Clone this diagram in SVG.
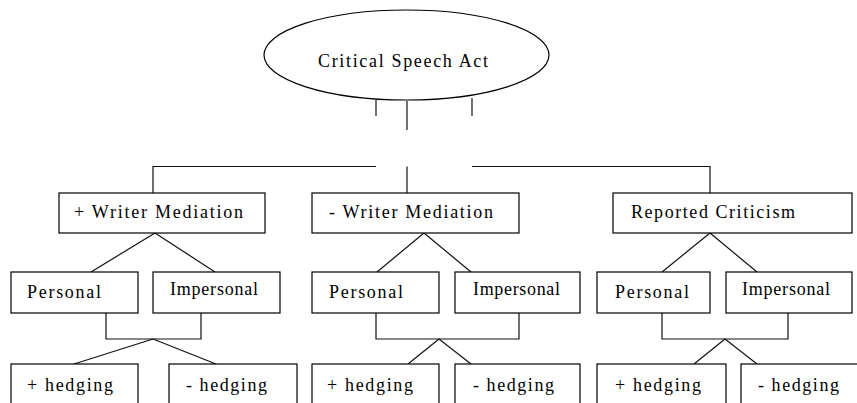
<svg xmlns="http://www.w3.org/2000/svg" width="857" height="403" viewBox="0 0 857 403">
<style>
.n rect,.n ellipse{fill:#fff;stroke:#000;stroke-width:1.2}
.c line,.c polyline{stroke:#111;stroke-width:1.2;fill:none}
text{font-family:"Liberation Serif","Times New Roman",serif;font-size:18px;fill:#000}
</style>
<rect width="857" height="403" fill="#fff"/>
<g class="c" id="connectors">
<line x1="376" y1="100" x2="376" y2="116"/>
<line x1="407" y1="101" x2="407" y2="130"/>
<line x1="472" y1="98" x2="472" y2="116"/>
<polyline points="153,193 153,166.5 376,166.5"/>
<polyline points="472,166.5 710,166.5 710,193"/>
<line x1="407" y1="166.5" x2="407" y2="193"/>
<line x1="155" y1="233" x2="91" y2="272"/>
<line x1="155" y1="233" x2="215" y2="272"/>
<line x1="424" y1="233" x2="377" y2="272"/>
<line x1="424" y1="233" x2="471" y2="272"/>
<line x1="710" y1="233" x2="662" y2="272"/>
<line x1="710" y1="233" x2="757" y2="272"/>
<polyline points="106,313 106,339 201,339 201,313"/>
<polyline points="376,313 376,339 519,339 519,313"/>
<polyline points="662,313 662,339 788,339 788,313"/>
<line x1="153" y1="339" x2="74" y2="364"/>
<line x1="153" y1="339" x2="216" y2="364"/>
<line x1="439" y1="339" x2="408" y2="364"/>
<line x1="439" y1="339" x2="471" y2="364"/>
<line x1="725" y1="339" x2="694" y2="364"/>
<line x1="725" y1="339" x2="757" y2="364"/>
</g>
<g class="n" id="root"><ellipse cx="406.5" cy="55" rx="142.5" ry="45"/><text x="318" y="67" textLength="170" lengthAdjust="spacing">Critical Speech Act</text></g>
<g class="n" id="wm-plus"><rect x="59" y="193" width="206" height="40"/><text x="74" y="218" textLength="169" lengthAdjust="spacing">+ Writer Mediation</text></g>
<g class="n" id="wm-minus"><rect x="312" y="193" width="207" height="40"/><text x="329" y="218" textLength="164" lengthAdjust="spacing">- Writer Mediation</text></g>
<g class="n" id="reported"><rect x="613" y="193" width="239" height="40"/><text x="631" y="218" textLength="164" lengthAdjust="spacing">Reported Criticism</text></g>
<g class="n" id="p1"><rect x="11" y="272" width="127" height="41"/><text x="27" y="298" textLength="74" lengthAdjust="spacing">Personal</text></g>
<g class="n" id="i1"><rect x="153" y="272" width="127" height="41"/><text x="170" y="295" textLength="88" lengthAdjust="spacing">Impersonal</text></g>
<g class="n" id="p2"><rect x="312" y="272" width="127" height="41"/><text x="329" y="298" textLength="74" lengthAdjust="spacing">Personal</text></g>
<g class="n" id="i2"><rect x="455" y="272" width="125" height="41"/><text x="473" y="295" textLength="87" lengthAdjust="spacing">Impersonal</text></g>
<g class="n" id="p3"><rect x="597" y="272" width="113" height="41"/><text x="615" y="298" textLength="74" lengthAdjust="spacing">Personal</text></g>
<g class="n" id="i3"><rect x="726" y="272" width="126" height="41"/><text x="742" y="295" textLength="88" lengthAdjust="spacing">Impersonal</text></g>
<g class="n" id="h1p"><rect x="11" y="364" width="127" height="50"/><text x="27" y="391" textLength="86" lengthAdjust="spacing">+ hedging</text></g>
<g class="n" id="h1m"><rect x="169" y="364" width="128" height="50"/><text x="186" y="391" textLength="81" lengthAdjust="spacing">- hedging</text></g>
<g class="n" id="h2p"><rect x="312" y="364" width="127" height="50"/><text x="327" y="391" textLength="86" lengthAdjust="spacing">+ hedging</text></g>
<g class="n" id="h2m"><rect x="455" y="364" width="125" height="50"/><text x="473" y="391" textLength="81" lengthAdjust="spacing">- hedging</text></g>
<g class="n" id="h3p"><rect x="597" y="364" width="129" height="50"/><text x="615" y="391" textLength="86" lengthAdjust="spacing">+ hedging</text></g>
<g class="n" id="h3m"><rect x="741" y="364" width="130" height="50"/><text x="758" y="391" textLength="81" lengthAdjust="spacing">- hedging</text></g>
</svg>
